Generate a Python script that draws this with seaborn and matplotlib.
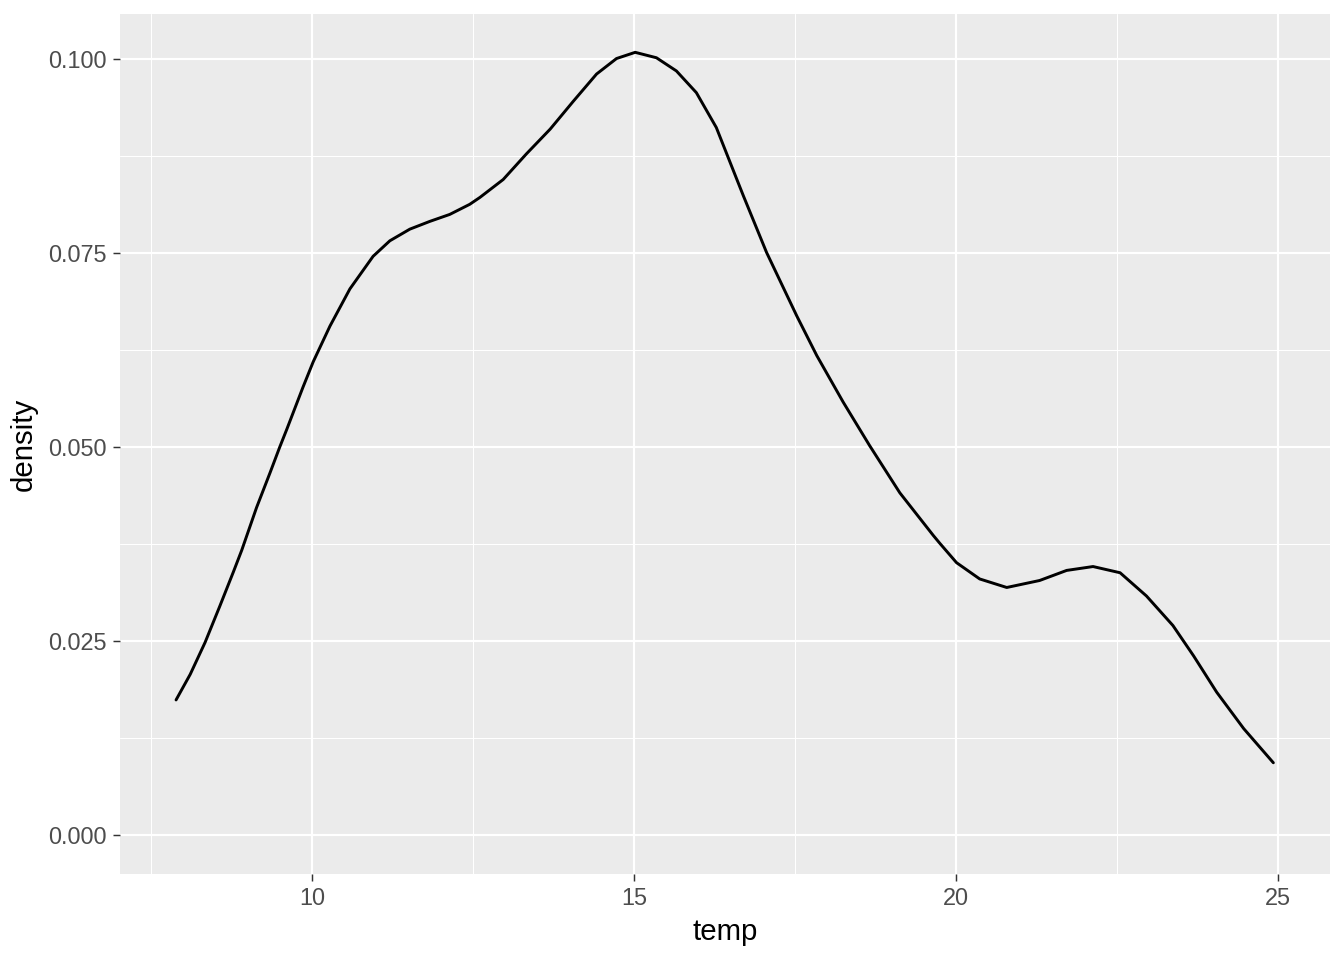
import matplotlib
matplotlib.use('Agg')
import matplotlib.pyplot as plt
import seaborn as sns
import pandas as pd
from matplotlib.ticker import MultipleLocator

# Curva de densidade (temp, density)
temp = [7.89, 8.11, 8.34, 8.57, 8.78, 8.91, 9.14, 9.35, 9.50, 9.61,
        9.86, 10.02, 10.28, 10.59, 10.95, 11.21, 11.52, 11.83, 12.14, 12.45,
        12.61, 12.97, 13.33, 13.70, 14.06, 14.42, 14.73, 15.02, 15.35, 15.66,
        15.97, 16.28, 16.59, 16.70, 17.06, 17.53, 17.84, 18.25, 18.66, 19.13,
        19.65, 19.75, 20.01, 20.37, 20.79, 21.30, 21.72, 22.13, 22.55, 22.96,
        23.37, 23.69, 24.05, 24.47, 24.93]
density = [0.0174, 0.0207, 0.0248, 0.0295, 0.0339, 0.0367, 0.0422, 0.0467, 0.0500, 0.0523,
           0.0577, 0.0610, 0.0656, 0.0704, 0.0746, 0.0766, 0.0781, 0.0791, 0.0800, 0.0813,
           0.0822, 0.0845, 0.0878, 0.0910, 0.0946, 0.0981, 0.1001, 0.1009, 0.1002, 0.0985,
           0.0957, 0.0912, 0.0847, 0.0824, 0.0751, 0.0669, 0.0618, 0.0558, 0.0502, 0.0441,
           0.0386, 0.0376, 0.0351, 0.0330, 0.0319, 0.0328, 0.0341, 0.0346, 0.0338, 0.0308,
           0.0270, 0.0231, 0.0184, 0.0137, 0.0093]

df = pd.DataFrame({'temp': temp, 'density': density})

sns.set_theme(style='darkgrid')
plt.rcParams['font.family'] = ['Liberation Sans', 'DejaVu Sans']

fig = plt.figure(figsize=(7, 5), dpi=192)
ax = fig.add_axes([0.0893, 0.0896, 0.9003, 0.8958])
ax.set_facecolor('#EBEBEB')

sns.lineplot(x='temp', y='density', data=df, color='black', linewidth=1.1, ax=ax)

ax.set_xlim(7.02, 25.81)
ax.set_ylim(-0.00504, 0.10584)
ax.xaxis.set_minor_locator(MultipleLocator(2.5))
ax.yaxis.set_minor_locator(MultipleLocator(0.0125))
ax.set_yticks([0, 0.025, 0.05, 0.075, 0.1])
ax.set_yticklabels(['0.000', '0.025', '0.050', '0.075', '0.100'])
ax.set_xticks([10, 15, 20, 25])
ax.set_xticklabels(['10', '15', '20', '25'])

ax.grid(which='major', color='white', linewidth=0.8)
ax.grid(which='minor', color='white', linewidth=0.4)
for s in ax.spines.values():
    s.set_visible(False)

ax.tick_params(which='major', length=2.75, width=0.55, color='#333333',
               labelsize=8.8, labelcolor='#4D4D4D', pad=2.2,
               bottom=True, left=True)
ax.tick_params(which='minor', length=0)

ax.set_xlabel('temp', fontsize=11, color='black', labelpad=3)
ax.set_ylabel('density', fontsize=11, color='black', labelpad=4)

fig.savefig('out.png', dpi=192, facecolor='white')
